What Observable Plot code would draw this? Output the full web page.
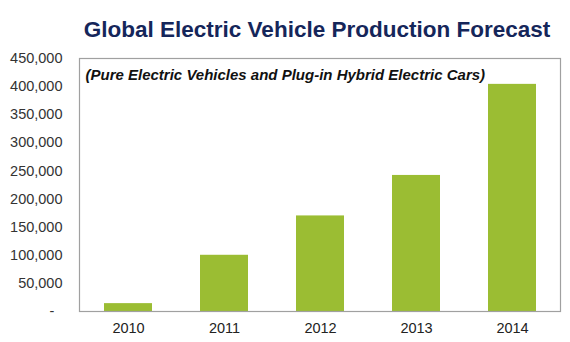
<!DOCTYPE html>
<html>
<head>
<meta charset="utf-8">
<script src="https://cdn.jsdelivr.net/npm/d3@7"></script>
<script src="https://cdn.jsdelivr.net/npm/@observablehq/plot@0.6"></script>
<style>
  html, body { margin: 0; padding: 0; background: #fff; }
  #chart { width: 570px; height: 342px; }
</style>
</head>
<body>
<div id="chart"></div>
<script>
const years = ["2010", "2011", "2012", "2013", "2014"];
const production = [14000, 100000, 170000, 242000, 404000];
const yTicks = [0, 50000, 100000, 150000, 200000, 250000, 300000, 350000, 400000, 450000];
const title = "Global Electric Vehicle Production Forecast";
const subtitle = "(Pure Electric Vehicles and Plug-in Hybrid Electric Cars)";

const data = years.map((y, i) => ({year: y, value: production[i]}));
const fmt = d3.format(",");

const chart = Plot.plot({
  width: 570,
  height: 342,
  marginLeft: 79,
  marginRight: 10,
  marginTop: 58,
  marginBottom: 31,
  style: {fontFamily: "Arial, 'Liberation Sans', sans-serif", fontSize: "14px", color: "#222", background: "#fff"},
  x: {domain: years, paddingInner: 0.5, paddingOuter: 0.25, label: null},
  y: {domain: [0, 450000], label: null},
  marks: [
    Plot.barY(data, {x: "year", y: "value", fill: "#9bbd33"}),
    Plot.frame({stroke: "#a0a0a0", strokeWidth: 1.2}),
    Plot.axisY({ticks: yTicks, tickSize: 0, tickPadding: 17, fontSize: 14.5, fill: "#333",
      tickFormat: d => d === 0 ? "-\u2007" : fmt(d), label: null}),
    Plot.axisX({tickSize: 0, tickPadding: 11, fontSize: 14.5, fill: "#222", label: null}),
    Plot.text([title], {frameAnchor: "top", lineAnchor: "middle", dy: -29, dx: -3, text: d => d, fontSize: 22.5, fontWeight: "bold", fill: "#15265a"}),
    Plot.text([subtitle], {frameAnchor: "top-left", lineAnchor: "middle", dx: 6, dy: 17, text: d => d, fontSize: 15, fontWeight: "bold", fontStyle: "italic", fill: "#111", textAnchor: "start"})
  ]
});
document.getElementById("chart").appendChild(chart);
</script>
</body>
</html>
